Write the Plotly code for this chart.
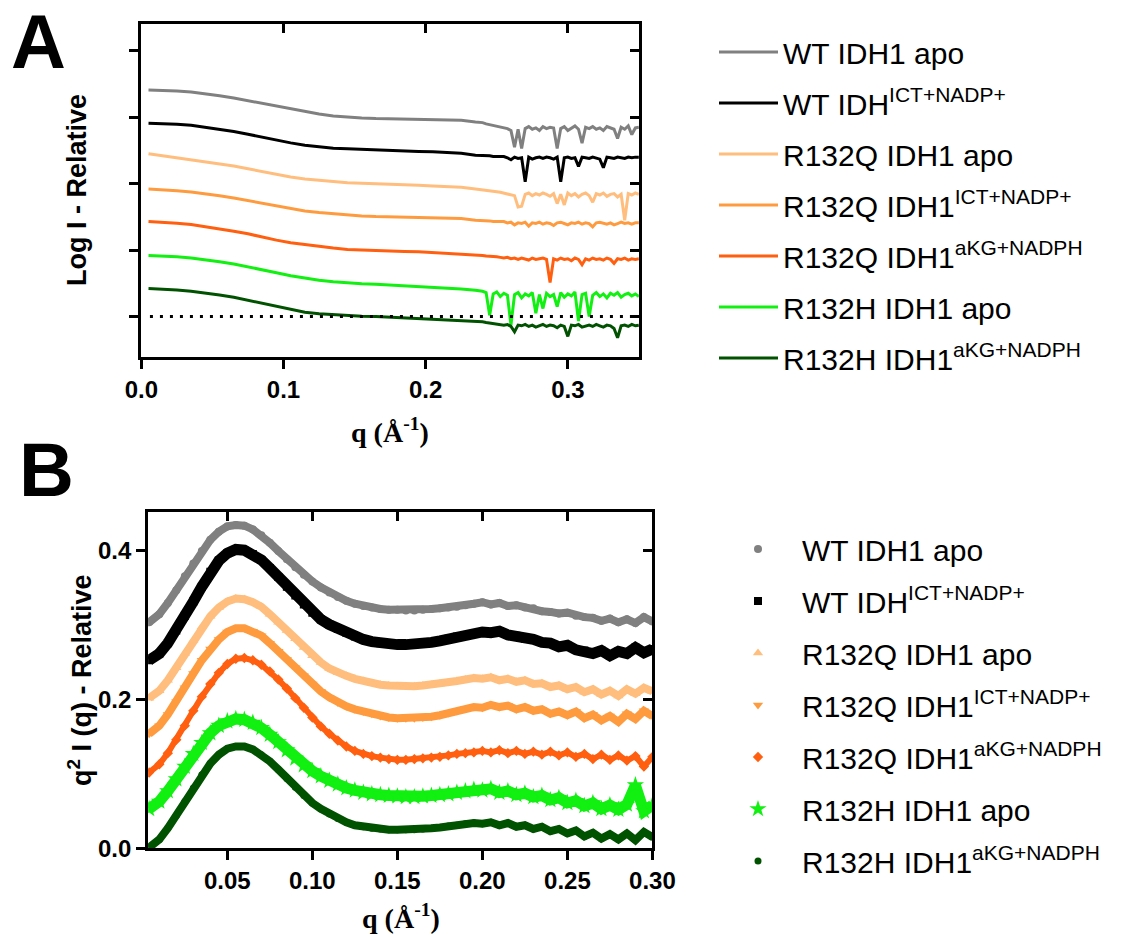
import plotly.graph_objects as go

W, H = 1132, 937

NAMES = ["WT IDH1 apo", "WT IDH<sup>ICT+NADP+</sup>", "R132Q IDH1 apo",
         "R132Q IDH1<sup>ICT+NADP+</sup>", "R132Q IDH1<sup>aKG+NADPH</sup>",
         "R132H IDH1 apo", "R132H IDH1<sup>aKG+NADPH</sup>"]
COLORS = ["#808080", "#000000", "#FFBE7D", "#FF9B3F", "#FF5F0F", "#11F011", "#005200"]
SYMBOLS_B = ["circle", "square", "triangle-up", "triangle-down", "diamond", "star", "circle"]
MSIZE_B = [8, 8, 9, 9, 8, 13, 7]
LWIDTH_B = [8, 11, 8, 8, 6, 11, 8]

# ---------------- Panel A: log I (relative, offset) vs q ----------------
Q_A = [0.005, 0.015, 0.025, 0.035, 0.045, 0.055, 0.065, 0.075, 0.085, 0.095, 0.105, 0.115,
       0.125, 0.135, 0.145, 0.155, 0.165, 0.175, 0.185, 0.195, 0.205, 0.215, 0.225, 0.235,
       0.24, 0.2425, 0.245, 0.2475, 0.25, 0.2525, 0.255, 0.2575, 0.26, 0.2625, 0.265, 0.2675,
       0.27, 0.2725, 0.275, 0.2775, 0.28, 0.2825, 0.285, 0.2875, 0.29, 0.2925, 0.295, 0.2975,
       0.30, 0.3025, 0.305, 0.3075, 0.31, 0.3125, 0.315, 0.3175, 0.32, 0.3225, 0.325, 0.3275,
       0.33, 0.3325, 0.335, 0.3375, 0.34, 0.3425, 0.345, 0.3475, 0.35]

A_WT_APO = [3.41, 3.405, 3.395, 3.38, 3.355, 3.325, 3.29, 3.25, 3.205, 3.16, 3.12, 3.08,
            3.05, 3.02, 3.00, 2.99, 2.98, 2.975, 2.965, 2.96, 2.96, 2.96, 2.955, 2.93,
            2.92, 2.90, 2.89, 2.88, 2.87, 2.85, 2.84, 2.83, 2.80, 2.55, 2.82, 2.53,
            2.83, 2.86, 2.82, 2.84, 2.80, 2.86, 2.83, 2.85, 2.84, 2.53, 2.83, 2.86,
            2.80, 2.84, 2.87, 2.82, 2.61, 2.85, 2.83, 2.86, 2.82, 2.84, 2.80, 2.86,
            2.84, 2.82, 2.68, 2.85, 2.82, 2.87, 2.74, 2.84, 2.85]
A_WT_ICT = [2.91, 2.905, 2.895, 2.88, 2.85, 2.82, 2.785, 2.745, 2.70, 2.655, 2.615, 2.58,
            2.555, 2.535, 2.525, 2.515, 2.505, 2.50, 2.49, 2.485, 2.48, 2.47, 2.46, 2.43,
            2.43, 2.42, 2.42, 2.41, 2.41, 2.40, 2.41, 2.39, 2.36, 2.40, 2.38, 2.39,
            2.03, 2.40, 2.37, 2.39, 2.40, 2.38, 2.40, 2.39, 2.37, 2.40, 2.03, 2.39,
            2.40, 2.38, 2.39, 2.26, 2.40, 2.39, 2.38, 2.40, 2.39, 2.37, 2.24, 2.40,
            2.39, 2.38, 2.40, 2.39, 2.38, 2.40, 2.39, 2.40, 2.40]
A_Q_APO = [2.45, 2.42, 2.395, 2.365, 2.33, 2.30, 2.265, 2.225, 2.18, 2.14, 2.10, 2.07,
           2.05, 2.03, 2.015, 2.005, 2.00, 1.99, 1.98, 1.975, 1.965, 1.955, 1.945, 1.92,
           1.91, 1.90, 1.90, 1.89, 1.88, 1.87, 1.86, 1.85, 1.84, 1.82, 1.65, 1.66,
           1.84, 1.86, 1.82, 1.85, 1.83, 1.86, 1.84, 1.81, 1.85, 1.70, 1.84, 1.68,
           1.86, 1.82, 1.85, 1.80, 1.84, 1.86, 1.82, 1.72, 1.85, 1.83, 1.86, 1.81,
           1.84, 1.85, 1.80, 1.84, 1.45, 1.85, 1.83, 1.86, 1.84]
A_Q_ICT = [1.92, 1.91, 1.895, 1.875, 1.85, 1.82, 1.785, 1.745, 1.70, 1.66, 1.62, 1.59,
           1.565, 1.545, 1.53, 1.515, 1.505, 1.50, 1.49, 1.485, 1.48, 1.48, 1.475, 1.45,
           1.45, 1.44, 1.44, 1.43, 1.43, 1.42, 1.43, 1.41, 1.42, 1.38, 1.41, 1.40,
           1.42, 1.36, 1.41, 1.40, 1.42, 1.39, 1.41, 1.40, 1.37, 1.41, 1.42, 1.40,
           1.38, 1.41, 1.40, 1.42, 1.39, 1.41, 1.40, 1.35, 1.41, 1.42, 1.40, 1.39,
           1.41, 1.38, 1.40, 1.42, 1.40, 1.41, 1.39, 1.41, 1.41]
A_Q_AKG = [1.43, 1.42, 1.405, 1.385, 1.355, 1.32, 1.285, 1.245, 1.195, 1.15, 1.11, 1.08,
           1.055, 1.03, 1.01, 1.00, 0.99, 0.985, 0.98, 0.975, 0.965, 0.955, 0.945, 0.925,
           0.92, 0.91, 0.91, 0.90, 0.90, 0.89, 0.88, 0.89, 0.87, 0.88, 0.86, 0.88,
           0.87, 0.85, 0.88, 0.86, 0.87, 0.88, 0.86, 0.51, 0.87, 0.85, 0.88, 0.86,
           0.87, 0.84, 0.88, 0.86, 0.78, 0.87, 0.85, 0.88, 0.86, 0.87, 0.85, 0.88,
           0.86, 0.80, 0.87, 0.86, 0.88, 0.85, 0.87, 0.86, 0.87]
A_H_APO = [0.92, 0.915, 0.90, 0.88, 0.855, 0.825, 0.79, 0.75, 0.705, 0.66, 0.615, 0.575,
           0.545, 0.525, 0.505, 0.495, 0.485, 0.475, 0.465, 0.455, 0.445, 0.43, 0.415, 0.395,
           0.38, 0.36, 0.02, 0.34, 0.37, 0.30, 0.35, 0.32, -0.13, 0.33, 0.36, 0.28,
           0.34, 0.31, 0.36, 0.05, 0.33, 0.12, 0.35, 0.30, 0.33, 0.15, 0.36, 0.29,
           0.34, 0.31, 0.37, -0.07, 0.33, 0.35, 0.00, 0.32, 0.36, 0.30, 0.34, 0.28,
           0.35, 0.32, 0.36, 0.29, 0.33, 0.35, 0.31, 0.34, 0.30]
A_H_AKG = [0.42, 0.415, 0.40, 0.38, 0.355, 0.325, 0.29, 0.245, 0.195, 0.145, 0.10, 0.065,
           0.04, 0.025, 0.015, 0.005, 0.0, -0.01, -0.02, -0.025, -0.035, -0.045, -0.055, -0.075,
           -0.08, -0.09, -0.10, -0.11, -0.11, -0.12, -0.13, -0.12, -0.15, -0.23, -0.13, -0.14,
           -0.12, -0.15, -0.13, -0.16, -0.14, -0.12, -0.15, -0.13, -0.14, -0.17, -0.13, -0.15,
           -0.30, -0.13, -0.14, -0.12, -0.16, -0.14, -0.13, -0.15, -0.12, -0.14, -0.16, -0.13,
           -0.14, -0.18, -0.32, -0.14, -0.13, -0.15, -0.12, -0.14, -0.13]
A_BASELINE_Q = [0.006, 0.347]
A_BASELINE_Y = [0, 0]
A_SERIES = [A_WT_APO, A_WT_ICT, A_Q_APO, A_Q_ICT, A_Q_AKG, A_H_APO, A_H_AKG]

# ---------------- Panel B: Kratky q^2 I(q) vs q ----------------
Q_B = [0.004, 0.01, 0.015, 0.02, 0.025, 0.03, 0.035, 0.04, 0.045, 0.05,
       0.055, 0.06, 0.065, 0.07, 0.075, 0.08, 0.085, 0.09, 0.095, 0.10,
       0.105, 0.11, 0.115, 0.12, 0.125, 0.13, 0.135, 0.14, 0.145, 0.15,
       0.155, 0.16, 0.165, 0.17, 0.175, 0.18, 0.185, 0.19, 0.195, 0.20,
       0.205, 0.21, 0.215, 0.22, 0.225, 0.23, 0.235, 0.24, 0.245, 0.25,
       0.255, 0.26, 0.265, 0.27, 0.275, 0.28, 0.285, 0.29, 0.295, 0.30]
B_WT_APO = [.304, .315, .330, .347, .366, .383, .400, .415, .426, .433,
            .435, .434, .429, .421, .411, .400, .389, .378, .368, .359,
            .351, .344, .338, .333, .329, .326, .324, .322, .321, .321,
            .320, .320, .321, .322, .323, .324, .325, .327, .329, .331,
            .328, .330, .326, .327, .324, .323, .319, .318, .316, .317,
            .313, .311, .310, .306, .309, .304, .308, .303, .311, .305]
B_WT_ICT = [.253, .262, .276, .293, .313, .332, .352, .372, .387, .397,
            .402, .401, .396, .388, .377, .365, .352, .340, .328, .317,
            .308, .301, .295, .290, .285, .281, .278, .276, .275, .274,
            .274, .274, .276, .277, .279, .282, .285, .287, .289, .291,
            .290, .292, .287, .286, .282, .281, .277, .276, .271, .273,
            .267, .266, .262, .266, .259, .265, .262, .270, .263, .268]
B_Q_APO = [.202, .212, .226, .243, .262, .280, .298, .312, .324, .332,
           .336, .335, .331, .325, .315, .304, .293, .282, .270, .259,
           .250, .242, .236, .232, .228, .225, .222, .220, .219, .218,
           .218, .218, .219, .220, .221, .223, .225, .227, .229, .228,
           .230, .226, .228, .224, .226, .221, .222, .217, .219, .214,
           .217, .210, .214, .207, .212, .205, .214, .208, .216, .211]
B_Q_ICT = [.154, .165, .180, .197, .216, .235, .253, .268, .281, .291,
           .296, .296, .292, .286, .276, .265, .254, .243, .232, .221,
           .211, .203, .196, .191, .187, .184, .181, .178, .176, .175,
           .175, .175, .176, .177, .179, .182, .185, .188, .190, .189,
           .193, .190, .192, .187, .190, .185, .187, .181, .184, .179,
           .184, .175, .180, .172, .178, .170, .181, .174, .185, .178]
B_Q_AKG = [.102, .113, .128, .146, .165, .185, .204, .221, .236, .248,
           .255, .256, .253, .247, .238, .227, .215, .202, .189, .176,
           .164, .154, .145, .137, .131, .127, .124, .122, .120, .119,
           .119, .120, .121, .122, .123, .125, .127, .128, .129, .131,
           .129, .132, .128, .131, .127, .130, .126, .130, .125, .129,
           .123, .127, .120, .126, .119, .125, .118, .124, .110, .123]
B_H_APO = [.053, .063, .077, .093, .110, .127, .142, .155, .165, .171,
           .174, .173, .169, .162, .153, .143, .132, .121, .112, .104,
           .097, .091, .086, .081, .078, .075, .073, .072, .071, .070,
           .069, .069, .070, .071, .072, .073, .075, .077, .079, .078,
           .080, .075, .077, .072, .074, .069, .071, .065, .068, .061,
           .064, .057, .061, .053, .058, .052, .059, .085, .050, .058]
B_H_AKG = [.001, .012, .027, .044, .063, .081, .099, .114, .126, .134,
           .137, .137, .133, .126, .117, .106, .094, .082, .071, .061,
           .053, .046, .040, .035, .031, .029, .027, .026, .025, .025,
           .025, .025, .026, .027, .028, .030, .031, .033, .034, .033,
           .035, .031, .034, .029, .031, .026, .029, .023, .026, .020,
           .024, .016, .021, .013, .019, .012, .020, .011, .022, .015]
B_SERIES = [B_WT_APO, B_WT_ICT, B_Q_APO, B_Q_ICT, B_Q_AKG, B_H_APO, B_H_AKG]

for s in A_SERIES:
    assert len(s) == len(Q_A), len(s)
for s in B_SERIES:
    assert len(s) == len(Q_B), len(s)

A_XTICKS = [0.0, 0.1, 0.2, 0.3]
A_XTICKTEXT = ["0.0", "0.1", "0.2", "0.3"]
A_YTICKS = [0, 1, 2, 3, 4]
B_XTICKS = [0.05, 0.10, 0.15, 0.20, 0.25, 0.30]
B_XTICKTEXT = ["0.05", "0.10", "0.15", "0.20", "0.25", "0.30"]
B_YTICKS = [0.0, 0.2, 0.4]
B_YTICKTEXT = ["0.0", "0.2", "0.4"]


def px(x):
    return x / W


def py(y):
    return 1 - y / H


SANS = "Liberation Sans"
SERIF = "Liberation Serif"

fig = go.Figure()

# Panel A traces
for i, (name, col, ys) in enumerate(zip(NAMES, COLORS, A_SERIES)):
    fig.add_trace(go.Scatter(x=Q_A, y=ys, mode="lines", name=name,
                             line=dict(color=col, width=3), xaxis="x", yaxis="y",
                             legend="legend", legendgroup=f"a{i}", hoverinfo="skip"))
fig.add_trace(go.Scatter(x=A_BASELINE_Q, y=A_BASELINE_Y, mode="lines", showlegend=False,
                         line=dict(color="black", width=3, dash="3px,7px"),
                         xaxis="x", yaxis="y", hoverinfo="skip"))

# Panel B traces: thick band + dense markers
for i, (name, col, ys) in enumerate(zip(NAMES, COLORS, B_SERIES)):
    fig.add_trace(go.Scatter(x=Q_B, y=ys, mode="lines", showlegend=False,
                             line=dict(color=col, width=LWIDTH_B[i]),
                             xaxis="x2", yaxis="y2", legendgroup=f"b{i}", hoverinfo="skip"))
    fig.add_trace(go.Scatter(x=Q_B, y=ys, mode="markers", name=name,
                             marker=dict(color=col, symbol=SYMBOLS_B[i], size=MSIZE_B[i],
                                         line=dict(width=0)),
                             xaxis="x2", yaxis="y2", legend="legend2",
                             legendgroup=f"b{i}", hoverinfo="skip"))

# dummy traces for the mirrored (inward-tick) axes
fig.add_trace(go.Scatter(x=[None], y=[None], xaxis="x3", yaxis="y3", showlegend=False))
fig.add_trace(go.Scatter(x=[None], y=[None], xaxis="x4", yaxis="y4", showlegend=False))

tickfont = dict(family=SANS, size=24, color="black", weight="bold")
base_axis = dict(showline=True, linecolor="black", linewidth=3, mirror=True,
                 ticks="outside", ticklen=9, tickwidth=3, tickcolor="black",
                 showgrid=False, zeroline=False, tickfont=tickfont, fixedrange=True,
                 automargin=False)
mirror_axis = dict(showline=False, ticks="inside", ticklen=9, tickwidth=3,
                   tickcolor="black", showgrid=False, zeroline=False,
                   showticklabels=False, fixedrange=True, automargin=False)

A_XDOM = [px(141.4), px(638.9)]
A_YDOM = [py(357), py(24)]
B_XDOM = [px(148.1), px(652.4)]
B_YDOM = [py(848.3), py(512.3)]
A_XR = [0, 0.35]
A_YR = [-0.61, 4.405]
B_XR = [0.0034, 0.30]
B_YR = [0, 0.452]

fig.update_layout(
    width=W, height=H, margin=dict(l=0, r=0, t=0, b=0, autoexpand=False),
    paper_bgcolor="white", plot_bgcolor="white",
    xaxis=dict(base_axis, domain=A_XDOM, range=A_XR, anchor="y",
               tickvals=A_XTICKS, ticktext=A_XTICKTEXT),
    yaxis=dict(base_axis, domain=A_YDOM, range=A_YR, anchor="x",
               tickvals=A_YTICKS, showticklabels=False),
    xaxis3=dict(mirror_axis, overlaying="x", side="top", anchor="y", range=A_XR,
                tickvals=[0.1, 0.2, 0.3]),
    yaxis3=dict(mirror_axis, overlaying="y", side="right", anchor="x", range=A_YR,
                tickvals=A_YTICKS),
    xaxis2=dict(base_axis, domain=B_XDOM, range=B_XR, anchor="y2",
                tickvals=B_XTICKS, ticktext=B_XTICKTEXT),
    yaxis2=dict(base_axis, domain=B_YDOM, range=B_YR, anchor="x2",
                tickvals=B_YTICKS, ticktext=B_YTICKTEXT),
    xaxis4=dict(mirror_axis, overlaying="x2", side="top", anchor="y2", range=B_XR,
                tickvals=B_XTICKS[:-1]),
    yaxis4=dict(mirror_axis, overlaying="y2", side="right", anchor="x2", range=B_YR,
                tickvals=[0.2, 0.4]),
    legend=dict(x=px(714), y=py(26), xanchor="left", yanchor="top",
                font=dict(family=SANS, size=30, color="black"),
                tracegroupgap=9, itemwidth=59, bgcolor="rgba(0,0,0,0)"),
    legend2=dict(x=px(714), y=py(523), xanchor="left", yanchor="top",
                 font=dict(family=SANS, size=30, color="black"),
                 tracegroupgap=10, itemwidth=78, bgcolor="rgba(0,0,0,0)"),
    showlegend=True,
)

ann = [
    dict(text="<b>A</b>", x=px(38), y=py(42), font=dict(family=SANS, size=76, color="black")),
    dict(text="<b>B</b>", x=px(46), y=py(469), font=dict(family=SANS, size=76, color="black")),
    dict(text="<b>Log I - Relative</b>", x=px(77), y=py(190), textangle=-90,
         font=dict(family=SANS, size=27, color="black")),
    dict(text="<b>q (Å<sup>-1</sup>)</b>", x=px(390), y=py(430),
         font=dict(family=SERIF, size=28, color="black")),
    dict(text="<b>q<sup>2</sup> I (q) - Relative</b>", x=px(80), y=py(680), textangle=-90,
         font=dict(family=SANS, size=27, color="black")),
    dict(text="<b>q (Å<sup>-1</sup>)</b>", x=px(401), y=py(916),
         font=dict(family=SERIF, size=28, color="black")),
]
for a in ann:
    fig.add_annotation(xref="paper", yref="paper", xanchor="center", yanchor="middle",
                       showarrow=False, **a)

fig.write_html("out.html",
               config={"displayModeBar": False, "staticPlot": True},
               post_script="document.body.style.margin='0px';"
                           "document.body.style.overflow='hidden';")
